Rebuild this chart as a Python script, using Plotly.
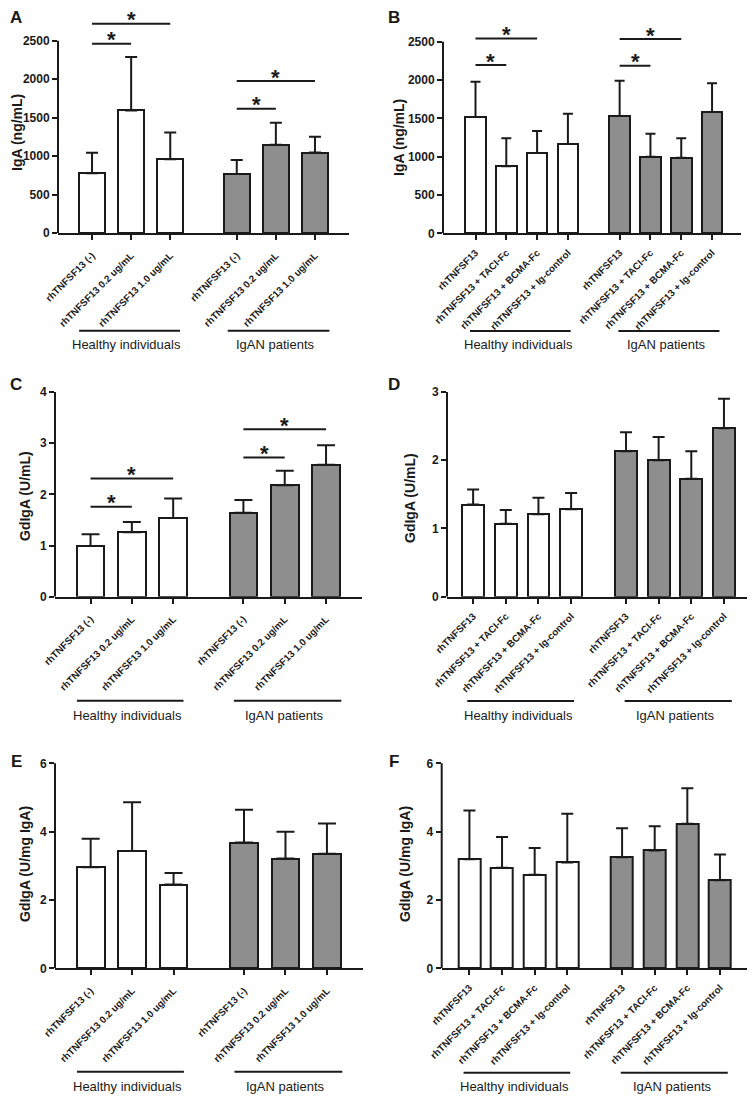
import plotly.graph_objects as go

W, H = 755, 1096          # browser window
OFF = 8                   # default page (body) margin of the html page
FW, FH = W - OFF, H - OFF  # figure size that fits the window
FONT = "Liberation Sans, Arial, sans-serif"
INK = "#1a1a1a"
GRAY = "#8e8e8e"

# ---------------- data ----------------
dose_labels = ["rhTNFSF13 (-)", "rhTNFSF13 0.2 ug/mL", "rhTNFSF13 1.0 ug/mL"]
block_labels = ["rhTNFSF13", "rhTNFSF13 + TACI-Fc", "rhTNFSF13 + BCMA-Fc", "rhTNFSF13 + Ig-control"]
group_names = ["Healthy individuals", "IgAN patients"]

# Panel A  IgA (ng/mL), dose
A_mean = [777, 1593, 959, 768, 1146, 1046]
A_err = [265, 694, 347, 182, 286, 204]
A_sig = [(0, 1, 2461), (0, 2, 2720), (3, 4, 1615), (3, 5, 1975)]

# Panel B  IgA (ng/mL), blocking
B_mean = [1517, 874, 1048, 1165, 1530, 1000, 987, 1583]
B_err = [461, 365, 287, 396, 461, 300, 252, 374]
B_sig = [(0, 1, 2196), (0, 2, 2543), (4, 5, 2187), (4, 6, 2535)]

# Panel C  GdIgA (U/mL), dose
C_mean = [0.99, 1.26, 1.54, 1.64, 2.18, 2.58]
C_err = [0.23, 0.20, 0.38, 0.25, 0.28, 0.38]
C_sig = [(0, 1, 1.76), (0, 2, 2.31), (3, 4, 2.72), (3, 5, 3.27)]

# Panel D  GdIgA (U/mL), blocking
D_mean = [1.35, 1.07, 1.21, 1.28, 2.13, 2.00, 1.73, 2.47]
D_err = [0.22, 0.20, 0.24, 0.24, 0.28, 0.34, 0.40, 0.43]

# Panel E  GdIgA (U/mg IgA), dose
E_mean = [2.96, 3.43, 2.45, 3.68, 3.21, 3.35]
E_err = [0.83, 1.43, 0.34, 0.96, 0.79, 0.89]

# Panel F  GdIgA (U/mg IgA), blocking
F_mean = [3.19, 2.94, 2.74, 3.10, 3.25, 3.45, 4.23, 2.58]
F_err = [1.43, 0.90, 0.78, 1.42, 0.85, 0.71, 1.04, 0.75]

A_ticks = [0, 500, 1000, 1500, 2000, 2500]
C_ticks = [0, 1, 2, 3, 4]
D_ticks = [0, 1, 2, 3]
E_ticks = [0, 2, 4, 6]

# ---------------- layout config (page pixel geometry) ----------------
pos3 = [0, 1, 2, 3.7, 4.7, 5.7]
pos4 = [0, 1, 2, 3, 4.68, 5.68, 6.68, 7.68]

panels = [
    dict(letter="A", mean=A_mean, err=A_err, sig=A_sig, labels=dose_labels, pos=pos3,
         ticks=A_ticks, title="IgA (ng/mL)", px=(58, 349), pzero=233.0, pmax=40.7, ptop=OFF,
         xr=(-0.87, 6.57), cap=6, gline=330.7, glabel=344, title_x=17, title_y=133,
         let_xy=(16, 18), tsize=9.8, tstand=6),
    dict(letter="B", mean=B_mean, err=B_err, sig=B_sig, labels=block_labels, pos=pos4,
         ticks=A_ticks, title="IgA (ng/mL)", px=(443, 741), pzero=233.3, pmax=41.7, ptop=OFF,
         xr=(-1.055, 8.62), cap=5, gline=331, glabel=344, title_x=399, title_y=137,
         let_xy=(394, 18), tsize=9.8, tstand=3),
    dict(letter="C", mean=C_mean, err=C_err, sig=C_sig, labels=dose_labels, pos=pos3,
         ticks=C_ticks, title="GdIgA (U/mL)", px=(55, 362), pzero=596.7, pmax=392, ptop=385,
         xr=(-0.86, 6.57), cap=9, gline=700.7, glabel=715, title_x=25, title_y=496,
         let_xy=(16, 384), tsize=9.8, tstand=6),
    dict(letter="D", mean=D_mean, err=D_err, sig=[], labels=block_labels, pos=pos4,
         ticks=D_ticks, title="GdIgA (U/mL)", px=(447, 754), pzero=596.7, pmax=392, ptop=385,
         xr=(-0.8, 8.6), cap=6, gline=701, glabel=715, title_x=410, title_y=498,
         let_xy=(394, 384), tsize=9.8, tstand=3),
    dict(letter="E", mean=E_mean, err=E_err, sig=[], labels=dose_labels, pos=pos3,
         ticks=E_ticks, title="GdIgA (U/mg IgA)", px=(55, 363), pzero=968.3, pmax=763.3, ptop=756,
         xr=(-0.86, 6.57), cap=9, gline=1071.7, glabel=1086, title_x=25, title_y=864,
         let_xy=(16, 761), tsize=9.8, tstand=6),
    dict(letter="F", mean=F_mean, err=F_err, sig=[], labels=block_labels, pos=pos4,
         ticks=E_ticks, title="GdIgA (U/mg IgA)", px=(441.7, 748), pzero=968.3, pmax=763.3, ptop=756,
         xr=(-0.85, 8.54), cap=6, gline=1072.7, glabel=1086, title_x=405, title_y=864,
         let_xy=(394, 761), tsize=9.8, tstand=3),
]

fig = go.Figure()
shapes, annots = [], []


def fx(px):
    return (px - OFF) / FW


def fy(py):
    return 1 - (py - OFF) / FH


for k, p in enumerate(panels, start=1):
    xa = "x" if k == 1 else f"x{k}"
    ya = "y" if k == 1 else f"y{k}"
    n = len(p["mean"])
    half = n // 2
    colors = ["white"] * half + [GRAY] * half
    fig.add_trace(go.Bar(
        x=p["pos"], y=p["mean"], width=0.67,
        marker=dict(color=colors, line=dict(color=INK, width=2)),
        error_y=dict(type="data", symmetric=False, array=p["err"], arrayminus=[0] * n,
                     thickness=2, width=p["cap"], color=INK),
        xaxis=xa, yaxis=ya, showlegend=False, hoverinfo="skip",
    ))
    maxtick = p["ticks"][-1]
    ytop = maxtick * (p["pzero"] - p["ptop"]) / (p["pzero"] - p["pmax"])
    axkey_x = "xaxis" if k == 1 else f"xaxis{k}"
    axkey_y = "yaxis" if k == 1 else f"yaxis{k}"
    fig.layout[axkey_x] = dict(
        domain=[fx(p["px"][0]), fx(p["px"][1])], anchor=ya, range=list(p["xr"]),
        tickmode="array", tickvals=p["pos"], ticktext=p["labels"] * 2, tickangle=-45,
        tickfont=dict(family=FONT, size=p["tsize"], color=INK, weight="bold"),
        showline=True, linecolor=INK, linewidth=2, ticks="outside", ticklen=5,
        tickwidth=2, tickcolor=INK, showgrid=False, zeroline=False, fixedrange=True,
        automargin=False, ticklabelstandoff=p["tstand"],
    )
    fig.layout[axkey_y] = dict(
        domain=[fy(p["pzero"]), fy(p["ptop"])], anchor=xa, range=[0, ytop],
        tickmode="array", tickvals=p["ticks"],
        tickfont=dict(family=FONT, size=12, color=INK, weight="bold"),
        showline=False, ticks="outside", ticklen=5, tickwidth=2, tickcolor=INK,
        showgrid=False, zeroline=False, fixedrange=True, automargin=False,
    )
    # y axis line up to the last tick
    shapes.append(dict(type="line", xref=f"{xa} domain", yref=ya, x0=0, x1=0, y0=0, y1=maxtick,
                       line=dict(color=INK, width=2)))
    # significance bars
    for (i, j, yv) in p["sig"]:
        x0, x1 = p["pos"][i], p["pos"][j]
        shapes.append(dict(type="line", xref=xa, yref=ya, x0=x0, x1=x1, y0=yv, y1=yv,
                           line=dict(color=INK, width=2)))
        annots.append(dict(x=(x0 + x1) / 2, y=yv, xref=xa, yref=ya, text="*", showarrow=False,
                           yanchor="middle", yshift=4, borderpad=0,
                           font=dict(family=FONT, size=22, color=INK, weight="bold")))
    # group lines and labels
    pos = p["pos"]
    if n == 6:
        spans = [(pos[0] - 0.33, pos[2] + 0.25), (pos[3] - 0.23, pos[5] + 0.37)]
    else:
        spans = [(pos[0] - 0.18, pos[3] + 0.09), (pos[4] - 0.04, pos[7] + 0.24)]
    for (a, b), name in zip(spans, group_names):
        shapes.append(dict(type="line", xref=xa, yref="paper", x0=a, x1=b,
                           y0=fy(p["gline"]), y1=fy(p["gline"]), line=dict(color=INK, width=2)))
        annots.append(dict(x=(a + b) / 2 - 0.07, y=fy(p["glabel"]), xref=xa, yref="paper",
                           text=name, showarrow=False, xanchor="center", yanchor="middle",
                           borderpad=0, font=dict(family=FONT, size=13, color=INK)))
    # y title
    annots.append(dict(x=fx(p["title_x"]), y=fy(p["title_y"]), xref="paper", yref="paper",
                       text=p["title"], textangle=-90, showarrow=False, xanchor="center",
                       yanchor="middle", borderpad=0,
                       font=dict(family=FONT, size=14, color=INK, weight="bold")))
    # panel letter
    annots.append(dict(x=fx(p["let_xy"][0]), y=fy(p["let_xy"][1]), xref="paper", yref="paper",
                       text=p["letter"], showarrow=False, xanchor="center", yanchor="middle",
                       borderpad=0, font=dict(family=FONT, size=17, color=INK, weight="bold")))

fig.update_layout(
    template="none",
    width=FW, height=FH, margin=dict(l=0, r=0, t=0, b=0, pad=0, autoexpand=False),
    paper_bgcolor="white", plot_bgcolor="white",
    shapes=shapes, annotations=annots, bargap=0, showlegend=False,
    font=dict(family=FONT, color=INK),
)

fig.write_html("out.html")
